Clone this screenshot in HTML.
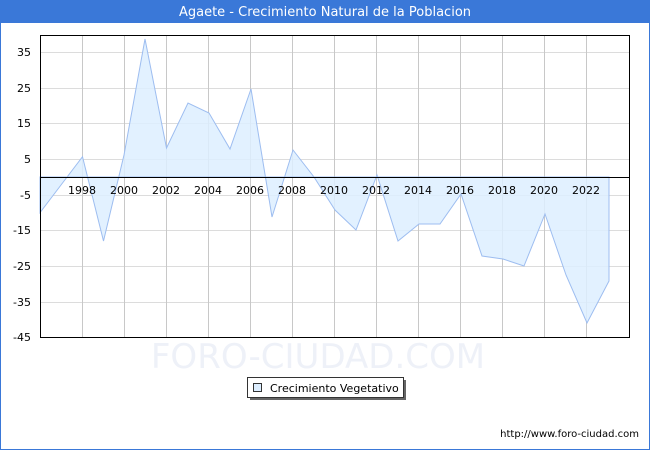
<!DOCTYPE html>
<html><head><meta charset="utf-8"><style>
body{margin:0;width:650px;height:450px;overflow:hidden;font-family:"Liberation Sans","DejaVu Sans",sans-serif;}
</style></head><body>
<svg width="650" height="450" xmlns="http://www.w3.org/2000/svg" font-family="DejaVu Sans, Liberation Sans, sans-serif">
<rect x="0.5" y="0.5" width="649" height="449" fill="#fff" stroke="#3a78d8"/>
<rect x="0" y="0" width="650" height="23" fill="#3a78d8"/>
<text x="325" y="16" text-anchor="middle" fill="#fff" font-size="13">Agaete - Crecimiento Natural de la Poblacion</text>
<g stroke="#dcdcdc" stroke-width="1">
<line x1="40" x2="630" y1="52.5" y2="52.5"/><line x1="40" x2="630" y1="88.5" y2="88.5"/>
<line x1="40" x2="630" y1="123.5" y2="123.5"/><line x1="40" x2="630" y1="159.5" y2="159.5"/>
<line x1="40" x2="630" y1="195.5" y2="195.5"/><line x1="40" x2="630" y1="230.5" y2="230.5"/>
<line x1="40" x2="630" y1="266.5" y2="266.5"/><line x1="40" x2="630" y1="302.5" y2="302.5"/>
</g>
<g stroke="#c8c8c8" stroke-width="1">
<line x1="82.5" x2="82.5" y1="35" y2="338"/><line x1="124.5" x2="124.5" y1="35" y2="338"/>
<line x1="166.5" x2="166.5" y1="35" y2="338"/><line x1="208.5" x2="208.5" y1="35" y2="338"/>
<line x1="250.5" x2="250.5" y1="35" y2="338"/><line x1="292.5" x2="292.5" y1="35" y2="338"/>
<line x1="334.5" x2="334.5" y1="35" y2="338"/><line x1="376.5" x2="376.5" y1="35" y2="338"/>
<line x1="418.5" x2="418.5" y1="35" y2="338"/><line x1="460.5" x2="460.5" y1="35" y2="338"/>
<line x1="502.5" x2="502.5" y1="35" y2="338"/><line x1="544.5" x2="544.5" y1="35" y2="338"/>
<line x1="586.5" x2="586.5" y1="35" y2="338"/>
</g>
<polygon fill="#ddeeff" fill-opacity="0.85" stroke="#9dbdf0" stroke-width="1" points="40,177 40,212.7 61,185 82.5,156.7 103.5,241 124,155 145,39 166.5,148 188,103 209,113 230,149 251,89 272,217 293,150 314,177 335,210 356,230 377,175 398,241 419,224 440,224 461,194 482,256 503,259 524,266 545,214 566,275 587,323 609,281 609,177"/>
<line x1="40" x2="630" y1="177.5" y2="177.5" stroke="#000"/>
<rect x="40.5" y="35.5" width="589" height="302" fill="none" stroke="#000"/>
<g font-size="11" fill="#000" text-anchor="end">
<text x="31" y="56">35</text><text x="31" y="92">25</text><text x="31" y="127">15</text>
<text x="31" y="163">5</text><text x="31" y="199">-5</text><text x="31" y="234">-15</text>
<text x="31" y="270">-25</text><text x="31" y="306">-35</text><text x="31" y="341">-45</text>
</g>
<g font-size="11" fill="#000" text-anchor="middle">
<text x="82" y="194">1998</text><text x="124" y="194">2000</text><text x="166" y="194">2002</text>
<text x="208" y="194">2004</text><text x="250" y="194">2006</text><text x="292" y="194">2008</text>
<text x="334" y="194">2010</text><text x="376" y="194">2012</text><text x="418" y="194">2014</text>
<text x="460" y="194">2016</text><text x="502" y="194">2018</text><text x="544" y="194">2020</text>
<text x="586" y="194">2022</text>
</g>
<text x="318" y="368" text-anchor="middle" font-size="34" fill="#eef1f8">FORO-CIUDAD.COM</text>
<rect x="250" y="380" width="156" height="20" fill="#666"/>
<rect x="247.5" y="377.5" width="156" height="20" fill="#fff" stroke="#333"/>
<rect x="253.5" y="383.5" width="8" height="8" fill="#ddeeff" stroke="#333"/>
<text x="270" y="392" font-size="11" fill="#000">Crecimiento Vegetativo</text>
<text x="639" y="437" text-anchor="end" font-size="10" fill="#000">http://www.foro-ciudad.com</text>
</svg>
</body></html>
